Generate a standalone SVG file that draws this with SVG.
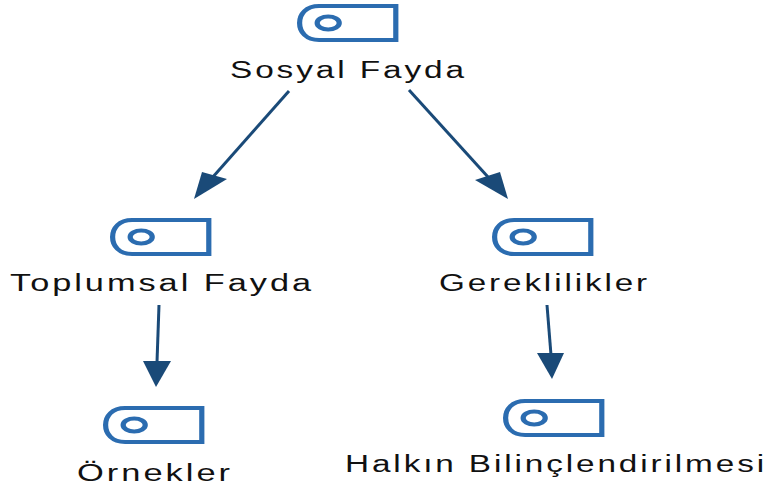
<svg xmlns="http://www.w3.org/2000/svg" width="765" height="487" viewBox="0 0 765 487">
<style>
.t{font-family:"Liberation Sans",Arial,sans-serif;font-size:23px;fill:#111;letter-spacing:2px}
.c{stroke:#1a4a78;stroke-width:3;fill:none}
.h{fill:#1a4a78}
.i{fill:none;stroke:#2b6cb0;stroke-width:4}
</style>
<defs>
<g id="icon" transform="scale(1.3 1)">
<path class="i" d="M76 2H17C7 2 2 10 2 19C2 28 7 36 17 36H76Z"/>
<ellipse class="i" cx="24" cy="19" rx="8.500" ry="6.500"/>
</g>
</defs>
<g id="connectors">
<line class="c" x1="289" y1="91" x2="212" y2="178"/>
<polygon class="h" points="194,199 202,172 227,179"/>
<line class="c" x1="409" y1="90" x2="488" y2="177"/>
<polygon class="h" points="508,199 475,180 500,172"/>
<line class="c" x1="159" y1="305" x2="157" y2="362"/>
<polygon class="h" points="156,387 143,361 171,361"/>
<line class="c" x1="547" y1="305" x2="551" y2="355"/>
<polygon class="h" points="552,379 537,353 564,353"/>
</g>
<g id="sosyal-fayda"><use href="#icon" x="297" y="4"/><text class="t" x="230" y="78" textLength="237" lengthAdjust="spacingAndGlyphs">Sosyal Fayda</text></g>
<g id="toplumsal-fayda"><use href="#icon" x="110" y="218"/><text class="t" x="10" y="291" textLength="304" lengthAdjust="spacingAndGlyphs">Toplumsal Fayda</text></g>
<g id="gereklilikler"><use href="#icon" x="492" y="218"/><text class="t" x="439" y="291" textLength="211" lengthAdjust="spacingAndGlyphs">Gereklilikler</text></g>
<g id="ornekler"><use href="#icon" x="103" y="406"/><text class="t" x="77" y="481" textLength="156" lengthAdjust="spacingAndGlyphs">Örnekler</text></g>
<g id="halkin"><use href="#icon" x="503" y="399"/><text class="t" x="345" y="472" textLength="422" lengthAdjust="spacingAndGlyphs">Halkın Bilinçlendirilmesi</text></g>
</svg>
